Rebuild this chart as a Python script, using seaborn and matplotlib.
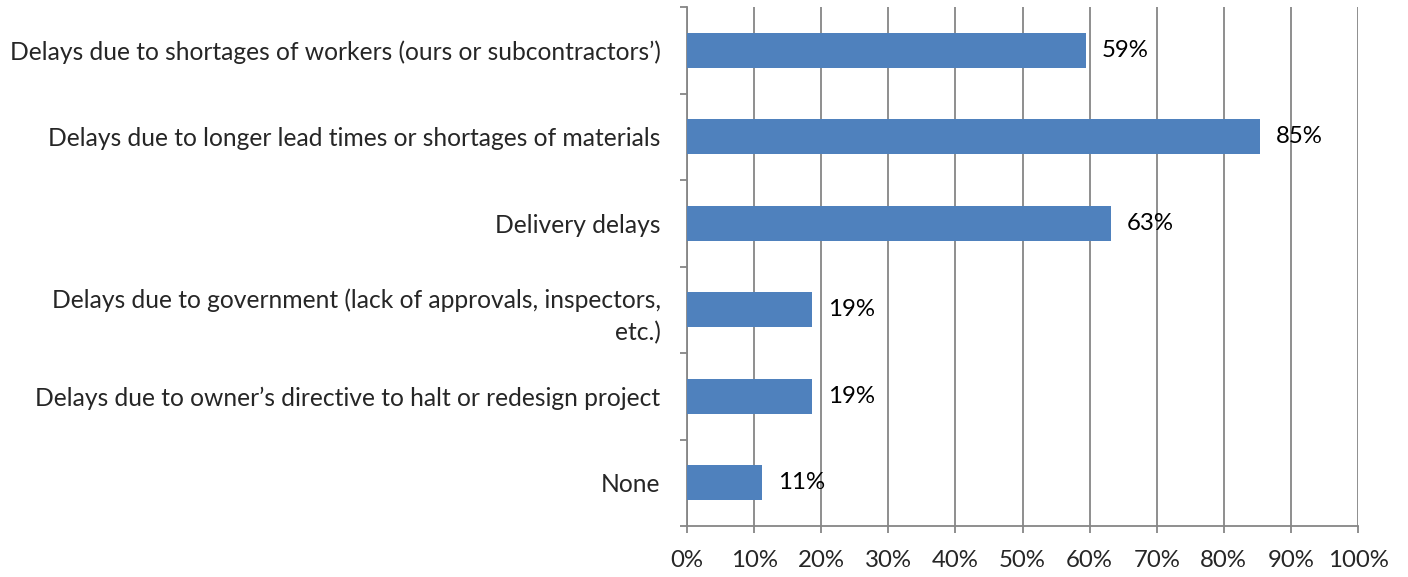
import numpy as np
import pandas as pd
import matplotlib
matplotlib.use("Agg")
import matplotlib.pyplot as plt
import seaborn as sns
from matplotlib.ticker import FixedLocator, PercentFormatter

# =====================================
# DATA
# =====================================

categories = [
    "Delays due to shortages of workers (ours or subcontractors\u2019)",
    "Delays due to longer lead times or shortages of materials",
    "Delivery delays",
    "Delays due to government (lack of approvals, inspectors,\netc.)",
    "Delays due to owner\u2019s directive to halt or redesign project",
    "None",
]
shares = [59.4, 85.4, 63.2, 18.6, 18.6, 11.2]
share_labels = ["59%", "85%", "63%", "19%", "19%", "11%"]
x_ticks = [0, 10, 20, 30, 40, 50, 60, 70, 80, 90, 100]

df = pd.DataFrame({"category": categories, "share": shares})

# =====================================
# STYLE
# =====================================

sns.set_style("white")
plt.rcParams["font.family"] = ["Lato", "DejaVu Sans"]

grey = "#868686"
bar_color = "#4F81BD"
fs = 17.3
fs_cat = 17.7

fig = plt.figure(figsize=(14.08, 5.77), dpi=100)
ax = fig.add_axes([687 / 1408, 1 - 526 / 577, (1358 - 687) / 1408, (526 - 7) / 577])

sns.barplot(
    data=df,
    x="share",
    y="category",
    orient="h",
    color=bar_color,
    saturation=1,
    width=0.4,
    linewidth=0,
    ax=ax,
    zorder=3,
)

# value labels
for i, (v, lab) in enumerate(zip(shares, share_labels)):
    ax.text(v + 2.4, i, lab, va="center", ha="left", fontsize=fs, color="black", zorder=4)

# =====================================
# AXES
# =====================================

ax.set_xlim(0, 100)
ax.set_ylim(len(categories) - 0.5, -0.5)
ax.xaxis.set_major_locator(FixedLocator(x_ticks))
ax.xaxis.set_major_formatter(PercentFormatter(decimals=0))
ax.grid(axis="x", color=grey, linewidth=1.3, zorder=0)
ax.grid(axis="y", visible=False)

ax.set_xlabel("")
ax.set_ylabel("")

for side in ["top", "right"]:
    ax.spines[side].set_visible(False)
for side in ["left", "bottom"]:
    ax.spines[side].set_color(grey)
    ax.spines[side].set_linewidth(1.3)

ax.yaxis.set_minor_locator(FixedLocator(np.arange(-0.5, len(categories), 1)))
ax.tick_params(axis="y", which="major", length=0, pad=19, labelsize=fs_cat, left=False)
ax.tick_params(axis="y", which="minor", length=5, width=1.3, color=grey, direction="out", left=True)
ax.tick_params(axis="x", which="major", length=5, width=1.3, color=grey, direction="out",
               pad=12, labelsize=fs, bottom=True)
for lab in ax.get_yticklabels():
    lab.set_horizontalalignment("right")
    lab.set_multialignment("right")
    lab.set_linespacing(1.45)

plt.savefig("out.png", dpi=100)
plt.close()
